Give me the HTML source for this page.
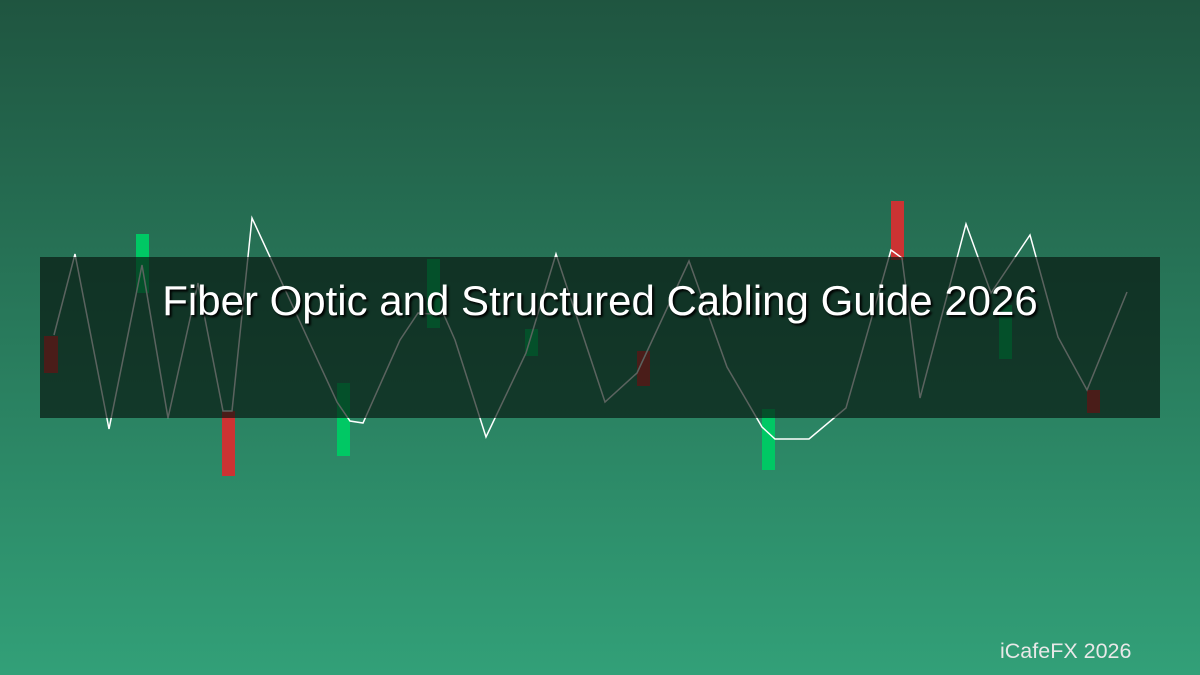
<!DOCTYPE html>
<html><head><meta charset="utf-8"><style>
html,body{margin:0;padding:0}
body{width:1200px;height:675px;overflow:hidden;background:linear-gradient(#1f5540,#32a078);font-family:"Liberation Sans",sans-serif;position:relative}
svg{position:absolute;left:0;top:0}
.t{position:absolute;left:0;width:1200px;top:277px;text-align:center;color:#fff;font-size:42px;text-shadow:2px 2px 2px #000}
.f{position:absolute;left:1000px;top:639px;color:#e8e8e8;font-size:21.5px}
</style></head><body>
<svg width="1200" height="675">
<g fill="#cc3333"><rect x="44" y="336" width="14" height="37"/><rect x="222" y="411" width="13" height="65"/><rect x="637" y="351" width="13" height="35"/><rect x="891" y="201" width="13" height="59"/><rect x="1087" y="390" width="13" height="23"/></g>
<g fill="#00c864"><rect x="136" y="234" width="13" height="59"/><rect x="337" y="383" width="13" height="73"/><rect x="427" y="259" width="13" height="69"/><rect x="525" y="329" width="13" height="27"/><rect x="762" y="409" width="13" height="61"/><rect x="999" y="305" width="13" height="54"/></g>
<polyline fill="none" stroke="#fff" stroke-width="1.5" points="54,335 75,254 109,429 142,265 168,418 198,283 223,411 232,411 252,218 337,402 350,421 363,423 400,340 418,313 444,315 455,340 486,437 526,353 556,254 605,402 637,373 689,261 727,367 762,427 775,439 809,439 846,408 891,250 902,258 920,398 966,224 991,293 1030,235 1058,337 1087,390 1127,292"/>
<rect x="40" y="257" width="1120" height="161" fill="rgba(6,18,12,0.66)"/>
</svg>
<div class="t">Fiber Optic and Structured Cabling Guide 2026</div>
<div class="f">iCafeFX 2026</div>
</body></html>
